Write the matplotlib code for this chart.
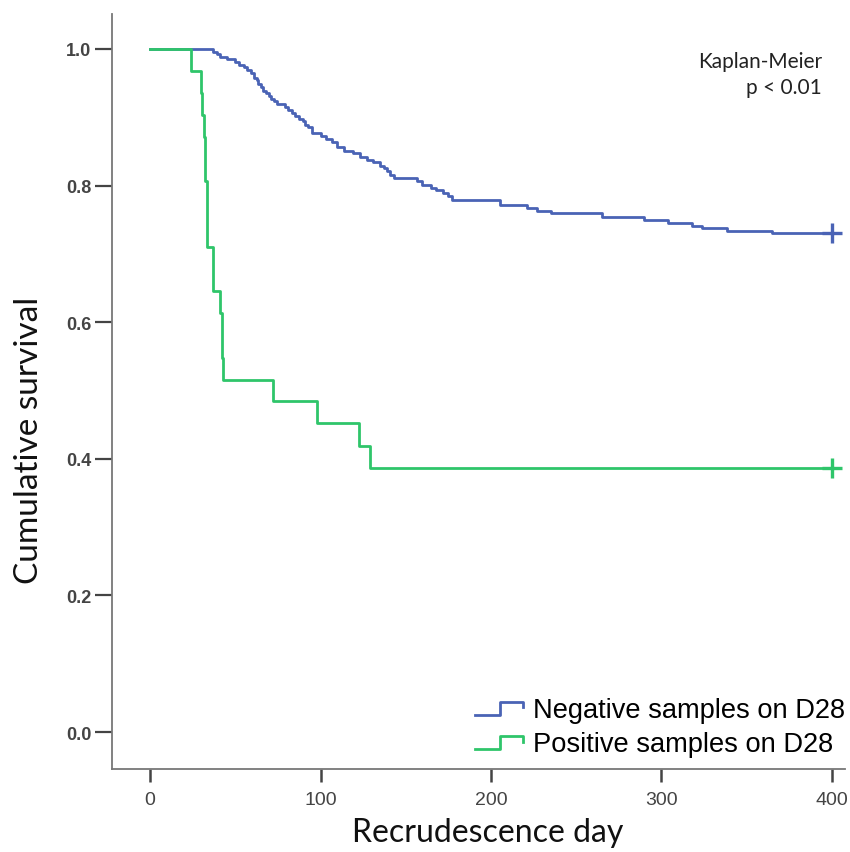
import matplotlib
matplotlib.use("Agg")
import matplotlib.pyplot as plt
from matplotlib.lines import Line2D
from matplotlib.legend_handler import HandlerLine2D

# Kaplan-Meier curves: time of each drop, survival after it
neg_t = [0, 37, 39, 41, 45, 50, 52, 55, 57, 59, 61, 62.5, 63.5, 65, 66.5, 68, 69.5,
         71, 72.5, 74.5, 79, 81, 83, 85, 87.5, 90, 91, 92.5, 95, 100, 103, 107,
         109.5, 113.5, 119, 123, 127, 131, 135, 137, 139, 141, 143, 156.5, 159.5,
         165, 168, 172, 175, 177, 205.5, 221, 227, 235, 265, 289.5, 304, 318,
         323.5, 338.5, 365]
neg_s = [1.0, 0.996, 0.992, 0.988, 0.985, 0.981, 0.977, 0.973, 0.969, 0.965, 0.958,
         0.954, 0.949, 0.944, 0.939, 0.935, 0.931, 0.927, 0.923, 0.919, 0.915,
         0.911, 0.906, 0.902, 0.898, 0.894, 0.889, 0.885, 0.877, 0.873, 0.868,
         0.864, 0.856, 0.851, 0.847, 0.842, 0.838, 0.834, 0.829, 0.825, 0.821,
         0.816, 0.811, 0.806, 0.801, 0.797, 0.793, 0.789, 0.784, 0.779, 0.772,
         0.767, 0.763, 0.760, 0.754, 0.750, 0.745, 0.741, 0.738, 0.734, 0.730]
pos_t = [0, 24, 30, 30.5, 31.5, 32.5, 33.3, 37.2, 41, 42, 43, 72.3, 97.8, 122.6, 129]
pos_s = [1.0, 0.968, 0.935, 0.903, 0.871, 0.806, 0.710, 0.645, 0.613, 0.548, 0.516,
         0.484, 0.452, 0.419, 0.387]
t_end = 400

labels = ["Negative samples on D28", "Positive samples on D28"]
colors = ["#4a63b5", "#2fc56a"]


class StepHandler(HandlerLine2D):
    # small step icon like the SPSS legend
    def create_artists(self, legend, orig_handle, xdescent, ydescent, width, height, fontsize, trans):
        x0 = -xdescent
        y0 = -ydescent
        xs = [x0, x0 + width * 0.52, x0 + width * 0.52, x0 + width, x0 + width]
        ys = [y0 + height * 0.1, y0 + height * 0.1, y0 + height * 0.8, y0 + height * 0.8, y0 + height * 0.5]
        ln = Line2D(xs, ys, color=orig_handle.get_color(), lw=orig_handle.get_linewidth())
        ln.set_transform(trans)
        return [ln]


fig = plt.figure(figsize=(8.5, 8.53), dpi=100)
ax = fig.add_axes([0.1318, 0.0973, 0.8622, 0.8851])

handles = []
for t, s, c in [(neg_t, neg_s, colors[0]), (pos_t, pos_s, colors[1])]:
    xs = list(t) + [t_end]
    ys = list(s) + [s[-1]]
    h, = ax.plot(xs, ys, drawstyle="steps-post", color=c, lw=2)
    ax.plot([t_end], [s[-1]], marker="+", color=c, markersize=15, mew=2.4)
    handles.append(h)

ax.set_xlim(-22.3, 407.6)
ax.set_ylim(-0.054, 1.051)
ax.set_xticks([0, 100, 200, 300, 400])
ax.set_yticks([0.0, 0.2, 0.4, 0.6, 0.8, 1.0])
ax.set_yticklabels(["0.0", "0.2", "0.4", "0.6", "0.8", "1.0"])

for side in ["top", "right"]:
    ax.spines[side].set_visible(False)
for side in ["left", "bottom"]:
    ax.spines[side].set_color("#777777")
    ax.spines[side].set_linewidth(1.3)
ax.tick_params(axis="y", direction="out", length=12, width=1.6, color="#444444",
               labelcolor="#444444", labelsize=13, pad=3)
ax.tick_params(axis="x", direction="out", length=9, width=1.8, color="#444444",
               labelcolor="#444444", labelsize=14, pad=7)
for lab in ax.get_yticklabels():
    lab.set_fontfamily(["Liberation Sans", "DejaVu Sans"])
    lab.set_fontweight("bold")
for lab in ax.get_xticklabels():
    lab.set_fontfamily(["Liberation Sans Narrow", "Liberation Sans", "DejaVu Sans"])

ax.set_ylabel("Cumulative survival", fontsize=24, family=["Lato", "DejaVu Sans"],
              labelpad=16, color="#111111", y=0.436)
ax.set_xlabel("Recrudescence day", fontsize=23, family=["Lato", "DejaVu Sans"],
              labelpad=6, color="#111111", x=0.513)

ax.text(0.9686, 0.938, "Kaplan-Meier", transform=ax.transAxes, ha="right", va="center",
        fontsize=15, family=["Lato", "DejaVu Sans"], color="#222222")
ax.text(0.9686, 0.903, "p < 0.01", transform=ax.transAxes, ha="right", va="center",
        fontsize=15, family=["Lato", "DejaVu Sans"], color="#222222")

leg = ax.legend(handles, labels, loc="lower right", bbox_to_anchor=(1.0, 0.0157),
                frameon=False, handler_map={Line2D: StepHandler()},
                prop={"family": "Liberation Sans", "size": 19.6},
                handlelength=1.76, handletextpad=0.37, labelspacing=0.3,
                borderaxespad=0, borderpad=0)

fig.savefig("out.png", dpi=100)
